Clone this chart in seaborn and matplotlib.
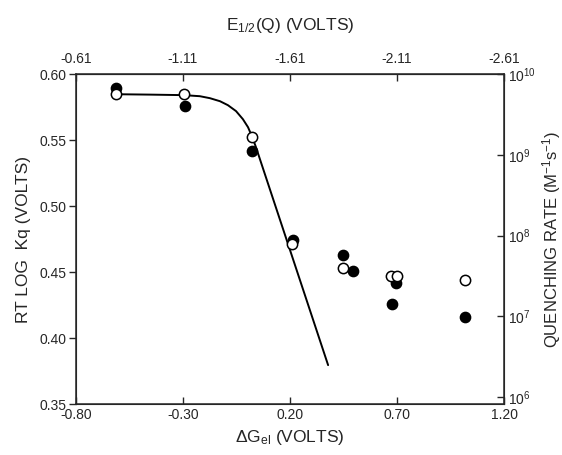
import numpy as np
import pandas as pd
import matplotlib
matplotlib.use("Agg")
import matplotlib.pyplot as plt
import seaborn as sns

# data
dg_filled = [-0.613, -0.291, 0.022, 0.214, 0.448, 0.494, 0.695, 0.677, 1.018]
rt_filled = [0.5894, 0.5758, 0.5417, 0.4742, 0.4629, 0.4508, 0.4417, 0.4258, 0.4159]

dg_open = [-0.613, -0.295, 0.022, 0.209, 0.448, 0.672, 0.700, 1.018]
rt_open = [0.5848, 0.5848, 0.5523, 0.4712, 0.4530, 0.4470, 0.4470, 0.4439]

# fitted curve, traced point by point
curve_dg = [-0.613, -0.454, -0.295, -0.221, -0.174, -0.127, -0.090, -0.052,
            -0.020, 0.004, 0.022, 0.041, 0.378]
curve_rt = [0.5848, 0.5845, 0.5841, 0.5833, 0.5818, 0.5795, 0.5765, 0.5720,
            0.5659, 0.5598, 0.5530, 0.5447, 0.3795]

x_ticks = [-0.80, -0.30, 0.20, 0.70, 1.20]
y_ticks = [0.35, 0.40, 0.45, 0.50, 0.55, 0.60]
top_ticks = [-0.61, -1.11, -1.61, -2.11, -2.61]
right_ticks = [1e6, 1e7, 1e8, 1e9, 1e10]
right_labels = ["$10^6$", "$10^7$", "$10^8$", "$10^9$", "$10^{10}$"]

sns.set_style("ticks")
plt.rcParams["font.family"] = ["Liberation Sans", "DejaVu Sans"]
plt.rcParams["axes.unicode_minus"] = False
plt.rcParams["mathtext.default"] = "regular"

fig = plt.figure(figsize=(5.62, 4.55), dpi=100)
ax = fig.add_axes([0.135, 0.112, 0.762, 0.725])

df_curve = pd.DataFrame({"dg": curve_dg, "rt": curve_rt})
sns.lineplot(data=df_curve, x="dg", y="rt", sort=False, color="black", lw=1.4, ax=ax)

df_f = pd.DataFrame({"dg": dg_filled, "rt": rt_filled})
df_o = pd.DataFrame({"dg": dg_open, "rt": rt_open})
sns.scatterplot(data=df_f, x="dg", y="rt", s=55, color="black", edgecolor="black",
                linewidth=1, ax=ax, zorder=3)
sns.scatterplot(data=df_o, x="dg", y="rt", s=55, color="white", edgecolor="black",
                linewidth=1.1, ax=ax, zorder=4)

ax.set_xlim(-0.80, 1.20)
ax.set_ylim(0.35, 0.60)
ax.set_xticks(x_ticks)
ax.set_xticklabels([f"{v:.2f}" for v in x_ticks], fontsize=10)
ax.set_yticks(y_ticks)
ax.set_yticklabels([f"{v:.2f}" for v in y_ticks], fontsize=10)
ax.tick_params(axis="x", direction="in", length=5, width=1, pad=3)
ax.tick_params(axis="y", direction="out", length=5, width=1, pad=2)
ax.set_xlabel("ΔG$_{el}$ (VOLTS)", fontsize=12.5, labelpad=4)
ax.set_ylabel("RT LOG  Kq (VOLTS)", fontsize=12.5, labelpad=6)
for s in ax.spines.values():
    s.set_linewidth(1.1)
    s.set_visible(True)

# top axis: E1/2(Q) = -1.41 - dG
top = ax.secondary_xaxis("top", functions=(lambda x: -1.41 - x, lambda e: -1.41 - e))
top.set_xticks(top_ticks)
top.set_xticklabels([f"{v:.2f}" for v in top_ticks], fontsize=10)
top.tick_params(direction="in", length=5, width=1, pad=6)
top.set_xlabel("E$_{1/2}$(Q) (VOLTS)", fontsize=12.5, labelpad=16)

# right axis: quenching rate, log scale
ax2 = ax.twinx()
ax2.set_yscale("log")
ax2.set_ylim(10 ** 5.913, 1e10)
ax2.set_yticks(right_ticks)
ax2.set_yticklabels(right_labels, fontsize=10)
ax2.minorticks_off()
ax2.tick_params(axis="y", direction="in", length=5, width=1, pad=3)
ax2.set_ylabel("QUENCHING RATE (M$^{-1}$s$^{-1}$)", fontsize=12, labelpad=3)

fig.savefig("out.png", dpi=100)
